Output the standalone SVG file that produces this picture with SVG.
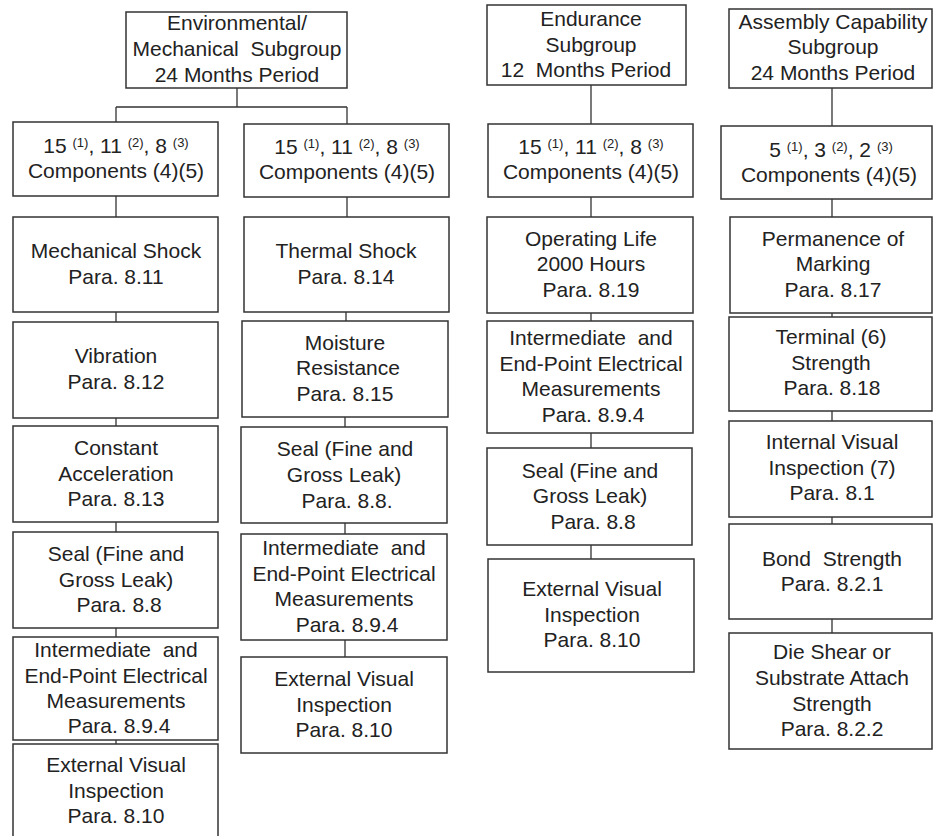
<svg xmlns="http://www.w3.org/2000/svg" width="933" height="836" viewBox="0 0 933 836">
<style>
.box{fill:#fff;stroke:#333;stroke-width:1.5}
.ln{fill:none;stroke:#333;stroke-width:1.3}
.t{font-family:"Liberation Sans",Arial,sans-serif;font-size:21px;fill:#222;text-anchor:middle;white-space:pre}
.sup{font-size:13px}
</style>
<rect width="933" height="836" fill="#fff"/>
<g id="connectors">
<path class="ln" d="M237 88V107M116 107H347M116 107V122M347 107V124"/>
<path class="ln" d="M116 196V217M116 312V322M116 418V426M116 522V532M116 628V637M116 740V744"/>
<path class="ln" d="M347 197V217M346 312V321M345 417V427M345 523V534M345 640V657"/>
<path class="ln" d="M591 85V124M591 197V217M591 313V321M591 433V448M591 545V559"/>
<path class="ln" d="M832 88V126M832 199V217M832 313V317M832 411V421M832 517V524M832 619V633"/>
</g>
<g id="env-top"><rect class="box" x="126" y="12" width="221" height="76"/>
<text class="t"><tspan x="237" y="30">Environmental/</tspan><tspan x="237" y="56">Mechanical&#160; Subgroup</tspan><tspan x="237" y="82">24 Months Period</tspan></text></g>
<g id="env-comp-a"><rect class="box" x="13" y="122" width="205" height="74"/>
<text class="t"><tspan x="116" y="153">15 <tspan class="sup" dy="-6">(1)</tspan><tspan dy="6">, 11 </tspan><tspan class="sup" dy="-6">(2)</tspan><tspan dy="6">, 8 </tspan><tspan class="sup" dy="-6">(3)</tspan></tspan><tspan x="116" y="178">Components (4)(5)</tspan></text></g>
<g id="mech-shock"><rect class="box" x="13" y="217" width="205" height="95"/>
<text class="t"><tspan x="116" y="258">Mechanical Shock</tspan><tspan x="116" y="284">Para. 8.11</tspan></text></g>
<g id="vibration"><rect class="box" x="13" y="322" width="205" height="96"/>
<text class="t"><tspan x="116" y="363">Vibration</tspan><tspan x="116" y="389">Para. 8.12</tspan></text></g>
<g id="const-acc"><rect class="box" x="13" y="426" width="205" height="96"/>
<text class="t"><tspan x="116" y="455">Constant</tspan><tspan x="116" y="481">Acceleration</tspan><tspan x="116" y="506">Para. 8.13</tspan></text></g>
<g id="seal-a"><rect class="box" x="13" y="532" width="205" height="96"/>
<text class="t"><tspan x="116" y="561">Seal (Fine and</tspan><tspan x="116" y="587">Gross Leak)</tspan><tspan x="119" y="612">Para. 8.8</tspan></text></g>
<g id="inter-a"><rect class="box" x="13" y="637" width="205" height="103"/>
<text class="t"><tspan x="116" y="657">Intermediate&#160; and</tspan><tspan x="116" y="683">End-Point Electrical</tspan><tspan x="116" y="708">Measurements</tspan><tspan x="119" y="733">Para. 8.9.4</tspan></text></g>
<g id="ext-a"><rect class="box" x="13" y="744" width="205" height="100"/>
<text class="t"><tspan x="116" y="772">External Visual</tspan><tspan x="116" y="798">Inspection</tspan><tspan x="116" y="823">Para. 8.10</tspan></text></g>
<g id="env-comp-b"><rect class="box" x="244" y="124" width="205" height="73"/>
<text class="t"><tspan x="347" y="154">15 <tspan class="sup" dy="-6">(1)</tspan><tspan dy="6">, 11 </tspan><tspan class="sup" dy="-6">(2)</tspan><tspan dy="6">, 8 </tspan><tspan class="sup" dy="-6">(3)</tspan></tspan><tspan x="347" y="179">Components (4)(5)</tspan></text></g>
<g id="thermal"><rect class="box" x="244" y="217" width="205" height="95"/>
<text class="t"><tspan x="346" y="258">Thermal Shock</tspan><tspan x="346" y="284">Para. 8.14</tspan></text></g>
<g id="moisture"><rect class="box" x="242" y="321" width="206" height="96"/>
<text class="t"><tspan x="345" y="350">Moisture</tspan><tspan x="348" y="375">Resistance</tspan><tspan x="345" y="401">Para. 8.15</tspan></text></g>
<g id="seal-b"><rect class="box" x="241" y="427" width="206" height="96"/>
<text class="t"><tspan x="345" y="456">Seal (Fine and</tspan><tspan x="344" y="482">Gross Leak)</tspan><tspan x="347" y="508">Para. 8.8.</tspan></text></g>
<g id="inter-b"><rect class="box" x="241" y="534" width="206" height="106"/>
<text class="t"><tspan x="344" y="555">Intermediate&#160; and</tspan><tspan x="344" y="581">End-Point Electrical</tspan><tspan x="344" y="606">Measurements</tspan><tspan x="347" y="632">Para. 8.9.4</tspan></text></g>
<g id="ext-b"><rect class="box" x="241" y="657" width="206" height="96"/>
<text class="t"><tspan x="344" y="686">External Visual</tspan><tspan x="344" y="712">Inspection</tspan><tspan x="344" y="737">Para. 8.10</tspan></text></g>
<g id="endurance-top"><rect class="box" x="487" y="5" width="199" height="80"/>
<text class="t"><tspan x="591" y="26">Endurance</tspan><tspan x="591" y="52">Subgroup</tspan><tspan x="586" y="77">12&#160; Months Period</tspan></text></g>
<g id="endurance-comp"><rect class="box" x="488" y="124" width="205" height="73"/>
<text class="t"><tspan x="591" y="154">15 <tspan class="sup" dy="-6">(1)</tspan><tspan dy="6">, 11 </tspan><tspan class="sup" dy="-6">(2)</tspan><tspan dy="6">, 8 </tspan><tspan class="sup" dy="-6">(3)</tspan></tspan><tspan x="591" y="179">Components (4)(5)</tspan></text></g>
<g id="op-life"><rect class="box" x="487" y="217" width="206" height="96"/>
<text class="t"><tspan x="591" y="246">Operating Life</tspan><tspan x="591" y="271">2000 Hours</tspan><tspan x="591" y="297">Para. 8.19</tspan></text></g>
<g id="inter-c"><rect class="box" x="487" y="321" width="206" height="112"/>
<text class="t"><tspan x="591" y="345">Intermediate&#160; and</tspan><tspan x="591" y="371">End-Point Electrical</tspan><tspan x="591" y="396">Measurements</tspan><tspan x="593" y="422">Para. 8.9.4</tspan></text></g>
<g id="seal-c"><rect class="box" x="487" y="448" width="205" height="97"/>
<text class="t"><tspan x="590" y="478">Seal (Fine and</tspan><tspan x="590" y="503">Gross Leak)</tspan><tspan x="593" y="529">Para. 8.8</tspan></text></g>
<g id="ext-c"><rect class="box" x="488" y="559" width="206" height="113"/>
<text class="t"><tspan x="592" y="596">External Visual</tspan><tspan x="592" y="622">Inspection</tspan><tspan x="592" y="647">Para. 8.10</tspan></text></g>
<g id="assembly-top"><rect class="box" x="729" y="9" width="203" height="79"/>
<text class="t"><tspan x="833" y="29">Assembly Capability</tspan><tspan x="833" y="54">Subgroup</tspan><tspan x="833" y="80">24 Months Period</tspan></text></g>
<g id="assembly-comp"><rect class="box" x="721" y="126" width="211" height="73"/>
<text class="t"><tspan x="831" y="157">5 <tspan class="sup" dy="-6">(1)</tspan><tspan dy="6">, 3 </tspan><tspan class="sup" dy="-6">(2)</tspan><tspan dy="6">, 2 </tspan><tspan class="sup" dy="-6">(3)</tspan></tspan><tspan x="829" y="182">Components (4)(5)</tspan></text></g>
<g id="permanence"><rect class="box" x="730" y="217" width="202" height="96"/>
<text class="t"><tspan x="833" y="246">Permanence of</tspan><tspan x="833" y="271">Marking</tspan><tspan x="833" y="297">Para. 8.17</tspan></text></g>
<g id="terminal"><rect class="box" x="729" y="317" width="203" height="94"/>
<text class="t"><tspan x="831" y="344">Terminal (6)</tspan><tspan x="831" y="370">Strength</tspan><tspan x="832" y="395">Para. 8.18</tspan></text></g>
<g id="internal-visual"><rect class="box" x="729" y="421" width="203" height="96"/>
<text class="t"><tspan x="832" y="449">Internal Visual</tspan><tspan x="832" y="475">Inspection (7)</tspan><tspan x="832" y="500">Para. 8.1</tspan></text></g>
<g id="bond"><rect class="box" x="729" y="524" width="203" height="95"/>
<text class="t"><tspan x="832" y="566">Bond&#160; Strength</tspan><tspan x="832" y="591">Para. 8.2.1</tspan></text></g>
<g id="die-shear"><rect class="box" x="729" y="633" width="203" height="116"/>
<text class="t"><tspan x="832" y="659">Die Shear or</tspan><tspan x="832" y="685">Substrate Attach</tspan><tspan x="832" y="711">Strength</tspan><tspan x="832" y="736">Para. 8.2.2</tspan></text></g>
</svg>
